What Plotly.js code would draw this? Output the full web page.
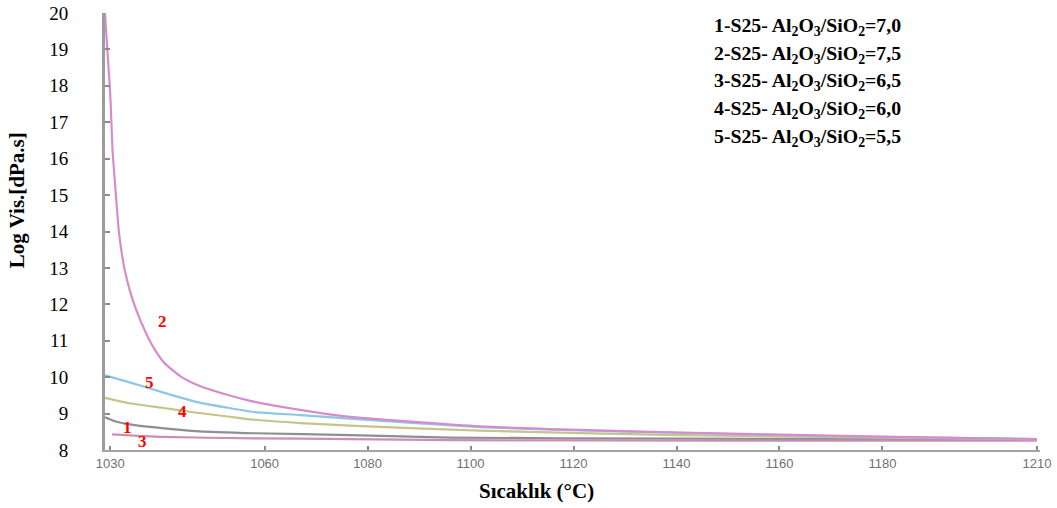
<!DOCTYPE html>
<html>
<head>
<meta charset="utf-8">
<script src="https://cdn.plot.ly/plotly-3.0.1.min.js"></script>
<style>
html,body{margin:0;padding:0;background:#fff;}
#chart{width:1057px;height:508px;}
</style>
</head>
<body>
<div id="chart"></div>
<script>
// ---- data ----
const seriesNames = ["1", "2", "3", "4", "5"];

const t1 = [1029, 1030.94, 1033.47, 1040.07, 1046.48, 1058.13, 1076.57, 1095.99, 1140.65, 1179.49, 1210];
const v1 = [8.90, 8.79, 8.71, 8.60, 8.52, 8.46, 8.41, 8.34, 8.31, 8.30, 8.29];

const t2 = [1029.00, 1029.39, 1029.78, 1030.07, 1030.46, 1030.75, 1031.19, 1031.66, 1032.17, 1032.83, 1033.80, 1035.08, 1036.71, 1038.32, 1040.59, 1043.82, 1047.06, 1052.88, 1057.20, 1066.86, 1076.57, 1101.82, 1121.23, 1140.65, 1160.07, 1179.49, 1210];
const v2 = [20.00, 19.12, 18.30, 17.61, 16.24, 15.69, 14.86, 14.04, 13.49, 12.94, 12.39, 11.84, 11.29, 10.84, 10.38, 10.01, 9.78, 9.51, 9.35, 9.10, 8.91, 8.65, 8.55, 8.48, 8.42, 8.37, 8.30];

const t3 = [1030.36, 1040.07, 1058.13, 1076.57, 1095.99, 1144.53, 1210];
const v3 = [8.43, 8.36, 8.32, 8.30, 8.27, 8.26, 8.26];

const t4 = [1029, 1033.47, 1040.07, 1046.48, 1052.88, 1058.13, 1066.86, 1076.57, 1101.82, 1140.65, 1179.49, 1210];
const v4 = [9.43, 9.29, 9.16, 9.03, 8.92, 8.83, 8.74, 8.67, 8.53, 8.41, 8.34, 8.30];

const t5 = [1029, 1033.47, 1040.07, 1046.48, 1052.88, 1058.13, 1066.86, 1076.57, 1101.82, 1121.23, 1140.65, 1160.07, 1179.49, 1210];
const v5 = [10.05, 9.87, 9.59, 9.33, 9.16, 9.04, 8.96, 8.86, 8.63, 8.54, 8.47, 8.41, 8.36, 8.30];

// curve number labels (red) placed on the chart
const labelText = ["1", "2", "3", "4", "5"];
const labelT = [1033.3, 1040.2, 1036.2, 1044.0, 1037.7];
const labelV = [8.63, 11.52, 8.22, 9.07, 9.84];

// legend texts (top right)
const legendTexts = [
  "1-S25- Al<sub>2</sub>O<sub>3</sub>/SiO<sub>2</sub>=7,0",
  "2-S25- Al<sub>2</sub>O<sub>3</sub>/SiO<sub>2</sub>=7,5",
  "3-S25- Al<sub>2</sub>O<sub>3</sub>/SiO<sub>2</sub>=6,5",
  "4-S25- Al<sub>2</sub>O<sub>3</sub>/SiO<sub>2</sub>=6,0",
  "5-S25- Al<sub>2</sub>O<sub>3</sub>/SiO<sub>2</sub>=5,5"
];

const xTickVals = [1030, 1060, 1080, 1100, 1120, 1140, 1160, 1180, 1210];
const yTickVals = [8, 9, 10, 11, 12, 13, 14, 15, 16, 17, 18, 19, 20];

// ---- styles ----
const colors = {"1": "#8f8f8f", "2": "#d68ccc", "3": "#c98fb4", "4": "#c4c48c", "5": "#8cc7e5"};
const serif = "Liberation Serif, Times New Roman, serif";

function line(name, t, v) {
  return {x: t, y: v, type: "scatter", mode: "lines", name: name,
          line: {color: colors[name], width: 2.2, shape: "spline", smoothing: 0.5},
          hoverinfo: "skip", showlegend: false};
}

const traces = [line("1", t1, v1), line("3", t3, v3), line("4", t4, v4), line("5", t5, v5), line("2", t2, v2)];

const annotations = [];
labelText.forEach((s, i) => {
  annotations.push({x: labelT[i], y: labelV[i], xref: "x", yref: "y", xanchor: "center", yanchor: "middle",
    text: "<b>" + s + "</b>", showarrow: false, font: {family: serif, size: 17, color: "#ff0000"}});
});
const legendY = [0.970, 0.906, 0.844, 0.780, 0.716];
legendTexts.forEach((s, i) => {
  annotations.push({x: 0.649, y: legendY[i], xref: "paper", yref: "paper", xanchor: "left", yanchor: "middle",
    text: "<b>" + s + "</b>", showarrow: false, font: {family: serif, size: 19.8, color: "#000"}});
});
annotations.push({x: 0.462, y: -0.094, xref: "paper", yref: "paper", xanchor: "center", yanchor: "middle",
  text: "<b>Sıcaklık (°C)</b>", showarrow: false, font: {family: serif, size: 21, color: "#000"}});
annotations.push({x: -0.094, y: 0.572, xref: "paper", yref: "paper", xanchor: "center", yanchor: "middle",
  text: "<b>Log Vis.[dPa.s]</b>", textangle: -90, showarrow: false, font: {family: serif, size: 21, color: "#000"}});

const layout = {
  width: 1057, height: 508,
  margin: {l: 105, r: 17, t: 13, b: 58},
  paper_bgcolor: "#fff", plot_bgcolor: "#fff",
  showlegend: false,
  xaxis: {range: [1029, 1210.6], tickvals: xTickVals, ticktext: xTickVals.map(String),
          showgrid: false, zeroline: false, showline: true, linecolor: "#a3a3a3", linewidth: 2,
          ticks: "inside", ticklen: 4, tickcolor: "#8a8a8a", tickwidth: 2,
          tickfont: {family: "Liberation Sans, Arial, sans-serif", size: 13, color: "#707070"}},
  yaxis: {range: [8, 20], tickvals: yTickVals, ticktext: yTickVals.map(String),
          showgrid: false, zeroline: false, showline: true, linecolor: "#9c9c9c", linewidth: 3,
          ticks: "inside", ticklen: 5, tickcolor: "#8a8a8a", tickwidth: 2,
          ticklabelstandoff: 30,
          tickfont: {family: serif, size: 19, color: "#000"}},
  annotations: annotations
};

Plotly.newPlot("chart", traces, layout, {staticPlot: true, displayModeBar: false});
</script>
</body>
</html>
